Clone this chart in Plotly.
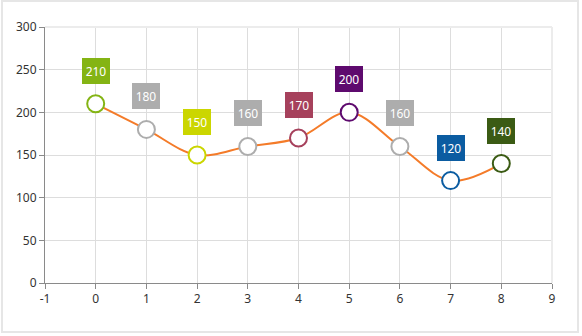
import plotly.graph_objects as go

# Series data
x_vals = [0, 1, 2, 3, 4, 5, 6, 7, 8]
y_vals = [210, 180, 150, 160, 170, 200, 160, 120, 140]
point_colors = ["#84b414", "#adadad", "#cbd600", "#adadad", "#a6415c",
                "#5e0a6e", "#adadad", "#0b5ca1", "#3b5b14"]

x_ticks = [-1, 0, 1, 2, 3, 4, 5, 6, 7, 8, 9]
x_tick_text = ["-1", "0", "1", "2", "3", "4", "5", "6", "7", "8", "9"]
y_ticks = [0, 50, 100, 150, 200, 250, 300]

FONT = "Segoe UI, Noto Sans, DejaVu Sans, sans-serif"

fig = go.Figure()

fig.add_trace(go.Scatter(
    x=x_vals, y=y_vals,
    mode="lines+markers",
    line=dict(color="#f47b29", width=2, shape="spline", smoothing=1),
    marker=dict(size=17, color="white",
                line=dict(color=point_colors, width=2)),
    hoverinfo="x+y",
))

# Value labels in coloured boxes above each point
for xv, yv, c in zip(x_vals, y_vals, point_colors):
    fig.add_annotation(
        x=xv, y=yv, xref="x", yref="y",
        text=str(yv), showarrow=False,
        yshift=33,
        bgcolor=c, borderpad=1, borderwidth=0,
        width=26, height=24,
        font=dict(family=FONT, size=12, color="white"),
    )

# Light edge lines on top and right of the plot area
fig.add_shape(type="line", xref="paper", yref="paper",
              x0=0, x1=1, y0=1, y1=1,
              line=dict(color="#ececec", width=2))
fig.add_shape(type="line", xref="paper", yref="paper",
              x0=1, x1=1, y0=0, y1=1,
              line=dict(color="#ececec", width=2))

# Outer frame around the chart
fig.add_shape(type="rect", xref="paper", yref="paper",
              x0=(2 - 45) / 507, x1=(578 - 45) / 507,
              y0=(283 - 332) / 256, y1=(283 - 1) / 256,
              line=dict(color="#e6e6e6", width=2),
              fillcolor="rgba(0,0,0,0)", layer="below")

fig.update_xaxes(
    range=[-1, 9], tickvals=x_ticks, ticktext=x_tick_text,
    showgrid=True, gridcolor="#dddddd", gridwidth=1,
    zeroline=False,
    showline=True, linecolor="#8a8a8a", linewidth=1,
    ticks="outside", ticklen=5, tickcolor="#8a8a8a",
    tickfont=dict(family=FONT, size=12, color="#333333"),
)
fig.update_yaxes(
    range=[0, 300], tickvals=y_ticks,
    showgrid=True, gridcolor="#dddddd", gridwidth=1,
    zeroline=False,
    showline=True, linecolor="#8a8a8a", linewidth=1,
    ticks="outside", ticklen=5, tickcolor="#8a8a8a",
    tickfont=dict(family=FONT, size=12, color="#333333"),
)

fig.update_layout(
    width=582, height=336,
    margin=dict(l=45, r=30, t=27, b=53),
    paper_bgcolor="white", plot_bgcolor="white",
    showlegend=False,
)

fig.write_html("out.html")
